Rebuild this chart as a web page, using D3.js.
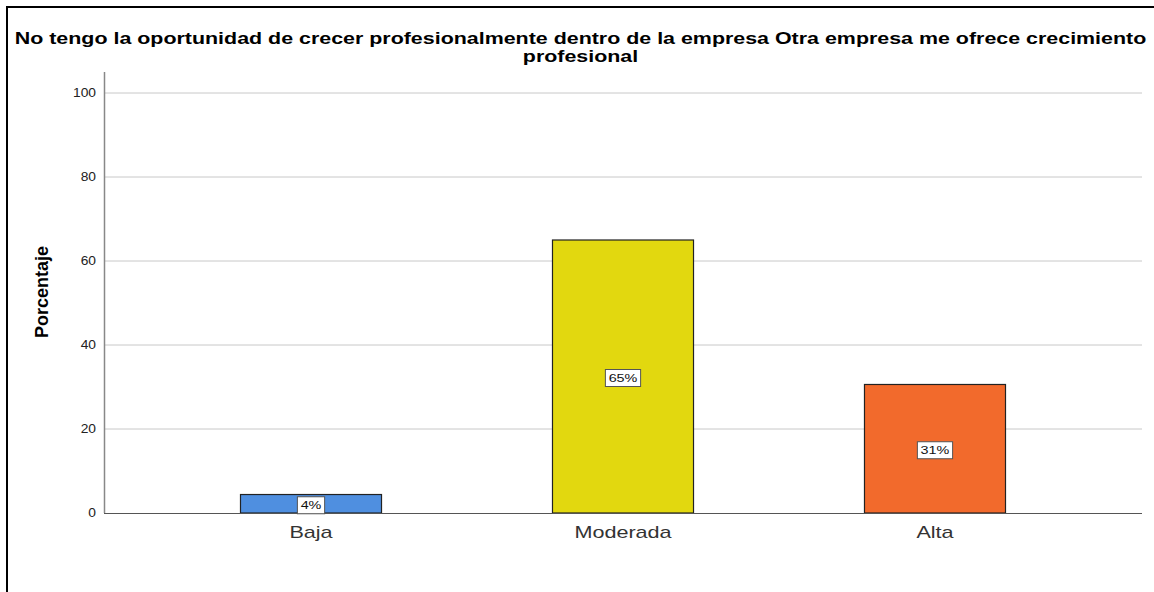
<!DOCTYPE html>
<html>
<head>
<meta charset="utf-8">
<script src="https://cdn.jsdelivr.net/npm/d3@7"></script>
<style>
  html, body { margin: 0; padding: 0; background: #fff; }
  svg { display: block; }
</style>
</head>
<body>
<div id="chart"></div>
<script>
// Chart data
const categories = ["Baja", "Moderada", "Alta"];
const percentages = [4.4, 65.0, 30.6];
const barColors = ["#4f8fe0", "#e2d80f", "#f26a2c"];
const yTicks = [0, 20, 40, 60, 80, 100];
const titleLines = [
  "No tengo la oportunidad de crecer profesionalmente dentro de la empresa Otra empresa me ofrece crecimiento",
  "profesional"
];
const yLabel = "Porcentaje";

const W = 1154, H = 592;
const plot = { left: 104, right: 1142, top: 72, bottom: 513 };
const FONT = "Liberation Sans, Arial, sans-serif";

const svg = d3.select("#chart").append("svg")
  .attr("width", W).attr("height", H);

// Outer frame (top and left edges)
svg.append("path")
  .attr("d", `M7,${H} L7,7 L${W},7`)
  .attr("fill", "none").attr("stroke", "#000").attr("stroke-width", 2);

const x = d3.scaleBand()
  .domain(categories)
  .range([plot.left, plot.right])
  .paddingInner(0.548)
  .paddingOuter(0.4375);

const y = d3.scaleLinear()
  .domain([0, 100])
  .range([plot.bottom, plot.bottom - 420]);

// Grid lines
svg.append("g")
  .selectAll("line")
  .data(yTicks.filter(d => d > 0))
  .join("line")
  .attr("x1", plot.left).attr("x2", plot.right)
  .attr("y1", d => y(d)).attr("y2", d => y(d))
  .attr("stroke", "#c8c8c8").attr("stroke-width", 1);

// Y axis tick labels (wide glyphs)
svg.append("g")
  .selectAll("text")
  .data(yTicks)
  .join("text")
  .attr("transform", d => `translate(96,${y(d)}) scale(1.15,1)`)
  .attr("text-anchor", "end")
  .attr("dy", "0.35em")
  .attr("font-family", FONT)
  .attr("font-size", 12).attr("fill", "#222")
  .text(d => d);
svg.append("line")
  .attr("x1", plot.left + 0.5).attr("x2", plot.left + 0.5)
  .attr("y1", plot.top).attr("y2", plot.bottom)
  .attr("stroke", "#888").attr("stroke-width", 1.5);

// Bars
svg.append("g")
  .selectAll("rect")
  .data(categories)
  .join("rect")
  .attr("x", d => x(d))
  .attr("width", x.bandwidth())
  .attr("y", (d, i) => y(percentages[i]))
  .attr("height", (d, i) => y(0) - y(percentages[i]))
  .attr("fill", (d, i) => barColors[i])
  .attr("stroke", "#222").attr("stroke-width", 1.2);

// X axis line and category labels
svg.append("line")
  .attr("x1", plot.left).attr("x2", plot.right)
  .attr("y1", plot.bottom + 0.5).attr("y2", plot.bottom + 0.5)
  .attr("stroke", "#555").attr("stroke-width", 1.2);
svg.append("g")
  .selectAll("text")
  .data(categories)
  .join("text")
  .attr("transform", d => `translate(${x(d) + x.bandwidth() / 2},538) scale(1.27,1)`)
  .attr("text-anchor", "middle")
  .attr("font-family", FONT)
  .attr("font-size", 17).attr("fill", "#333")
  .text(d => d);

// Value labels in boxed tags
const fmt = d3.format(".0f");
const labels = svg.append("g")
  .selectAll("g")
  .data(categories)
  .join("g")
  .attr("transform", (d, i) => {
    const cy = (y(percentages[i]) + y(0)) / 2 + 1.5;
    return `translate(${x(d) + x.bandwidth() / 2},${cy})`;
  });
labels.append("text")
  .attr("transform", "scale(1.25,1)")
  .attr("text-anchor", "middle")
  .attr("dy", "0.35em")
  .attr("font-family", FONT)
  .attr("font-size", 11.5).attr("fill", "#111")
  .text((d, i) => fmt(percentages[i]) + "%")
  .each(function () {
    const w = this.getBBox().width * 1.25;
    d3.select(this.parentNode).insert("rect", "text")
      .attr("x", -w / 2 - 3).attr("y", -8.5)
      .attr("width", w + 6).attr("height", 17)
      .attr("fill", "#fff").attr("stroke", "#555").attr("stroke-width", 1);
  });

// Title
svg.append("g")
  .selectAll("text")
  .data(titleLines)
  .join("text")
  .attr("transform", (d, i) => `translate(580.5,${44 + i * 18}) scale(1.26,1)`)
  .attr("text-anchor", "middle")
  .attr("font-family", FONT)
  .attr("font-weight", "bold")
  .attr("font-size", 17).attr("fill", "#000")
  .text(d => d);

// Y axis title
svg.append("text")
  .attr("transform", `translate(48,292) rotate(-90)`)
  .attr("text-anchor", "middle")
  .attr("font-family", FONT)
  .attr("font-weight", "bold")
  .attr("font-size", 18).attr("fill", "#000")
  .text(yLabel);
</script>
</body>
</html>
